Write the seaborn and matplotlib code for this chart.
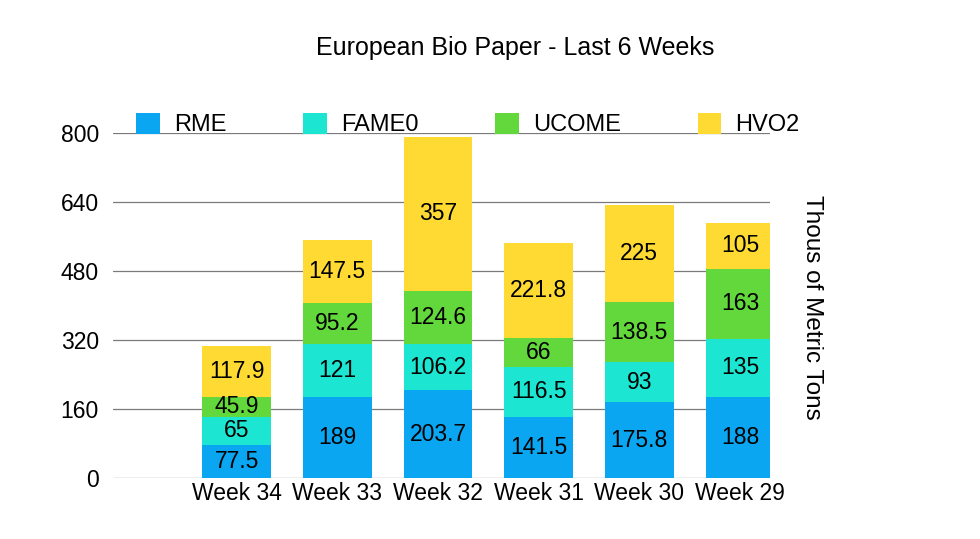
import matplotlib
matplotlib.use("Agg")
import matplotlib.pyplot as plt
from matplotlib.patches import Patch
import seaborn as sns
import pandas as pd
import numpy as np

weeks = ["Week 34", "Week 33", "Week 32", "Week 31", "Week 30", "Week 29"]
rme = [77.5, 189, 203.7, 141.5, 175.8, 188]
fame0 = [65, 121, 106.2, 116.5, 93, 135]
ucome = [45.9, 95.2, 124.6, 66, 138.5, 163]
hvo2 = [117.9, 147.5, 357, 221.8, 225, 105]
series_names = ["RME", "FAME0", "UCOME", "HVO2"]
colors = ["#0AA6F2", "#1CE6D2", "#62D83C", "#FFDA33"]
yticks = [0, 160, 320, 480, 640, 800]

sns.set_theme(style="white")
plt.rcParams['font.family'] = ['Liberation Sans', 'DejaVu Sans']
plt.rcParams['text.color'] = 'black'
plt.rcParams['xtick.color'] = 'black'
plt.rcParams['ytick.color'] = 'black'

series = [rme, fame0, ucome, hvo2]
cum = np.cumsum(np.array(series, dtype=float), axis=0)

fig = plt.figure(figsize=(9.8, 5.39), dpi=100)
ax = fig.add_axes([0.115, 0.113, 0.671, 0.64])

# draw from top-most cumulative down so lower segments overlay
for i in range(len(series) - 1, -1, -1):
    df = pd.DataFrame({"week": weeks, "value": cum[i]})
    sns.barplot(data=df, x="week", y="value", order=weeks, color=colors[i],
                saturation=1, width=0.68, ax=ax, edgecolor="none", zorder=3)

# segment labels
for i in range(len(series)):
    for j, w in enumerate(weeks):
        base = cum[i - 1][j] if i > 0 else 0
        v = series[i][j]
        ax.text(j, base + v / 2, f"{v:g}", ha="center", va="center",
                fontsize=16.5, color="black", zorder=5)

ax.set_ylim(0, 800)
ax.set_xlim(-1.23, 5.3)
ax.set_yticks(yticks)
ax.set_yticklabels([str(t) for t in yticks], fontsize=16.5)
ax.tick_params(axis="y", length=0, pad=10)
ax.tick_params(axis="x", length=0, pad=3, labelsize=16.5)
ax.set_xlabel("")
ax.set_ylabel("")
ax.grid(axis="y", color="#7a7a7a", linewidth=0.9, zorder=0)
ax.set_axisbelow(True)
for s in ax.spines.values():
    s.set_visible(False)

fig.text(0.526, 0.911, "European Bio Paper - Last 6 Weeks", ha="center",
         va="center", fontsize=18)
fig.text(0.829, 0.43, "Thous of Metric Tons", rotation=-90, ha="center",
         va="center", fontsize=17.5)

handles = [Patch(facecolor=c, edgecolor="none") for c in colors]
fig.legend(handles, series_names, loc="center left",
           bbox_to_anchor=(0.139, 0.769), ncol=4, frameon=False,
           fontsize=17, handlelength=1.0, handleheight=1.0,
           handletextpad=0.6, columnspacing=3.25, borderaxespad=0,
           borderpad=0)

fig.savefig("out.png", dpi=100)
